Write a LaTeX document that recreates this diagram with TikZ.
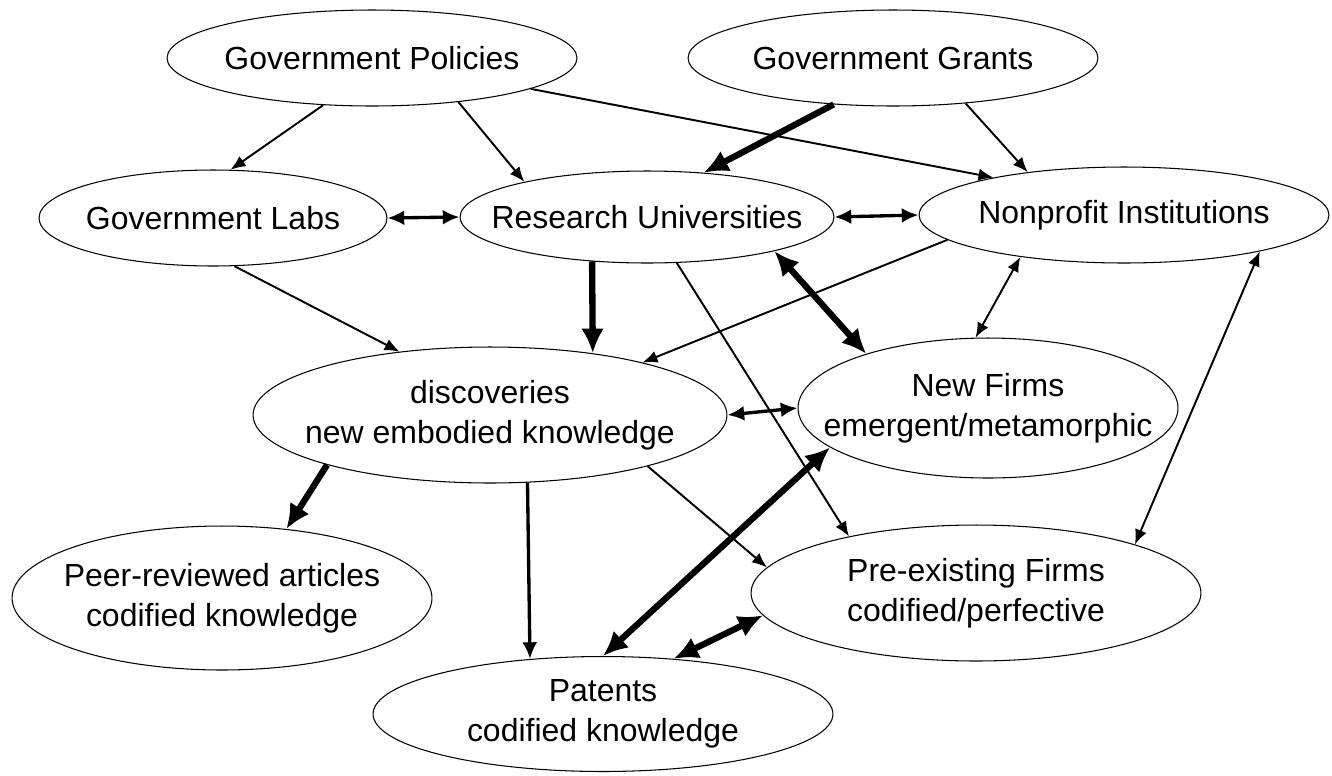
\documentclass[tikz,border=0pt]{standalone}
\usepackage{fontspec}
\setmainfont{Liberation Sans}
\usetikzlibrary{arrows.meta,shapes.geometric}

\begin{document}
\begin{tikzpicture}[
    x=0.02cm, y=-0.02cm,
    font=\fontsize{18.2}{22.8}\selectfont,
    oval/.style={draw, ellipse, inner sep=0pt, line width=0.6pt},
    txt/.style={label={[align=center]center:#1}},
    link/.style={->, >={Latex[length=8.5pt,width=7pt]}, line width=1.1pt},
    mid link/.style={->, >={Latex[length=9.5pt,width=8.5pt]}, line width=1.9pt},
    heavy link/.style={->, >={Latex[length=14pt,width=13pt]}, line width=3.6pt}
]
\useasboundingbox (0,0) rectangle (1332,775);

% top row
\node[oval, minimum width=8.2cm, minimum height=1.92cm, txt={Government Policies}] (pol) at (372,58) {};
\node[oval, minimum width=8.2cm, minimum height=1.92cm, txt={Government Grants}] (grant) at (893,58) {};
% institutions
\node[oval, minimum width=6.96cm, minimum height=1.92cm, txt={Government Labs}] (lab) at (213,218) {};
\node[oval, minimum width=7.48cm, minimum height=1.84cm, txt={Research Universities}] (univ) at (647,217) {};
\node[oval, minimum width=8.2cm, minimum height=1.92cm, txt={Nonprofit Institutions}] (np) at (1124,215) {};
% outputs
\node[oval, minimum width=9.48cm, minimum height=2.72cm, txt={discoveries\\new embodied knowledge}] (disc) at (490,415) {};
\node[oval, minimum width=7.6cm, minimum height=2.8cm, txt={New Firms\\emergent/metamorphic}] (newf) at (988,408) {};
\node[oval, minimum width=8.4cm, minimum height=2.88cm, txt={Peer-reviewed articles\\codified knowledge}] (peer) at (222,598) {};
\node[oval, minimum width=9cm, minimum height=2.72cm, txt={Pre-existing Firms\\codified/perfective}] (preex) at (976,593) {};
\node[oval, minimum width=9.2cm, minimum height=2.3cm, txt={Patents\\codified knowledge}] (pat) at (603,714) {};

% funding and policy
\draw[link] (pol.-136) -- (lab.70);
\draw[link] (pol.-27) -- (univ.164);
\draw[link] (pol.-11) -- (np.164);
\draw[heavy link] (grant.-142) -- (univ.38);
\draw[link] (grant.-32) -- (np.156);

% between institutions
\draw[mid link, <->] (lab.east) -- (univ.west);
\draw[mid link, <->] (univ.east) -- (np.west);

% into discoveries and firms
\draw[heavy link] (univ.-141) -- (disc.31);
\draw[link] (lab.-66) -- (disc.145);
\draw[link] (np.-172) -- (disc.19);
\draw[heavy link, <->] (univ.-15) -- (newf.156);
\draw[link] (univ.-57) -- (preex.156);
\draw[link, <->] (np.-158) -- (newf.100);
\draw[link, <->] (np.-15) -- (preex.17);
\draw[mid link, <->] (disc.east) -- (newf.west);

% codified outputs
\draw[heavy link] (disc.-163) -- (peer.47);
\draw[mid link] (disc.-61) -- (pat.143);
\draw[link] (disc.-18) -- (preex.173);
\draw[heavy link, <->] (pat.90) -- (newf.-166);
\draw[heavy link, <->] (pat.38) -- (preex.-174);
\end{tikzpicture}
\end{document}
